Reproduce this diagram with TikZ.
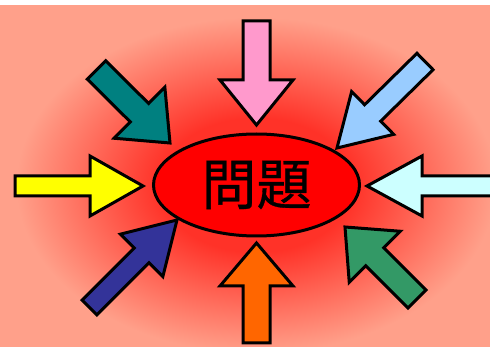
\documentclass[tikz,border=0pt]{standalone}
\usepackage{fontspec}
\newfontfamily\jpfont[FakeBold=0.6]{Noto Sans CJK JP}
\usetikzlibrary{calc,shapes.geometric}
\definecolor{salmonbg}{RGB}{255,160,138}
\definecolor{glowred}{RGB}{255,50,40}
\definecolor{cPink}{RGB}{255,153,204}
\definecolor{cOrange}{RGB}{255,102,0}
\definecolor{cYellow}{RGB}{255,255,0}
\definecolor{cCyan}{RGB}{204,255,255}
\definecolor{cTeal}{RGB}{0,128,128}
\definecolor{cSky}{RGB}{153,204,255}
\definecolor{cNavy}{RGB}{51,51,153}
\definecolor{cGreen}{RGB}{51,153,102}
\pgfdeclareradialshading{glow}{\pgfpoint{0bp}{0bp}}{color(0bp)=(glowred); color(8bp)=(glowred); color(20bp)=(salmonbg); color(50bp)=(salmonbg)}
\tikzset{
  arrowline/.style={draw=black, line width=3pt, miter limit=10},
  problem/.style={ellipse, draw=black, line width=3pt, fill=red, minimum width=206pt, minimum height=102pt, inner sep=0pt, font=\jpfont\fontsize{55}{55}\selectfont}
}
% #1 tail, #2 tip, #3 shaft half width, #4 head half width, #5 head length, #6 colour
\newcommand\blockarrow[6]{%
  \path ($(#2)!#5!(#1)$) coordinate (ba);
  \draw[arrowline, fill=#6]
    ($(#1)!#3!90:(#2)$) -- ($(ba)!#3!90:(#2)$) -- ($(ba)!#4!90:(#2)$) -- (#2)
    -- ($(ba)!#4!-90:(#2)$) -- ($(ba)!#3!-90:(#2)$) -- ($(#1)!#3!-90:(#2)$) -- cycle;
}
\begin{document}
\begin{tikzpicture}[x=1pt,y=-1pt]
\useasboundingbox (0,0) rectangle (490,347);
\fill[white] (0,0) rectangle (490,347);
\begin{scope}
\clip (0,6) rectangle (490,347);
\shade[shading=glow] (-44,-25) rectangle (556,395);
% arrows
\coordinate (tA) at (256.5,21);  \coordinate (hA) at (256.5,125);
\coordinate (tB) at (256.5,343); \coordinate (hB) at (256.5,243);
\coordinate (tC) at (15,186);    \coordinate (hC) at (143,186);
\coordinate (tD) at (505,186);   \coordinate (hD) at (367,186);
\coordinate (tE) at (96.5,70);   \coordinate (hE) at (170,143);
\coordinate (tF) at (425,61.5);  \coordinate (hF) at (337,148);
\coordinate (tG) at (89.5,307.5);\coordinate (hG) at (177,220);
\coordinate (tH) at (417,299);   \coordinate (hH) at (345,227);
\blockarrow{tA}{hA}{13.5pt}{36.5pt}{45pt}{cPink}
\blockarrow{tB}{hB}{13.5pt}{36.5pt}{43pt}{cOrange}
\blockarrow{tC}{hC}{10pt}{30pt}{53pt}{cYellow}
\blockarrow{tD}{hD}{10pt}{30pt}{55pt}{cCyan}
\blockarrow{tE}{hE}{13pt}{36pt}{43pt}{cTeal}
\blockarrow{tF}{hF}{11.5pt}{30pt}{50pt}{cSky}
\blockarrow{tG}{hG}{10.5pt}{30pt}{50pt}{cNavy}
\blockarrow{tH}{hH}{12.7pt}{36pt}{42pt}{cGreen}
\end{scope}
\node[problem] (prob) at (256.5,185) {問題};
\end{tikzpicture}
\end{document}
